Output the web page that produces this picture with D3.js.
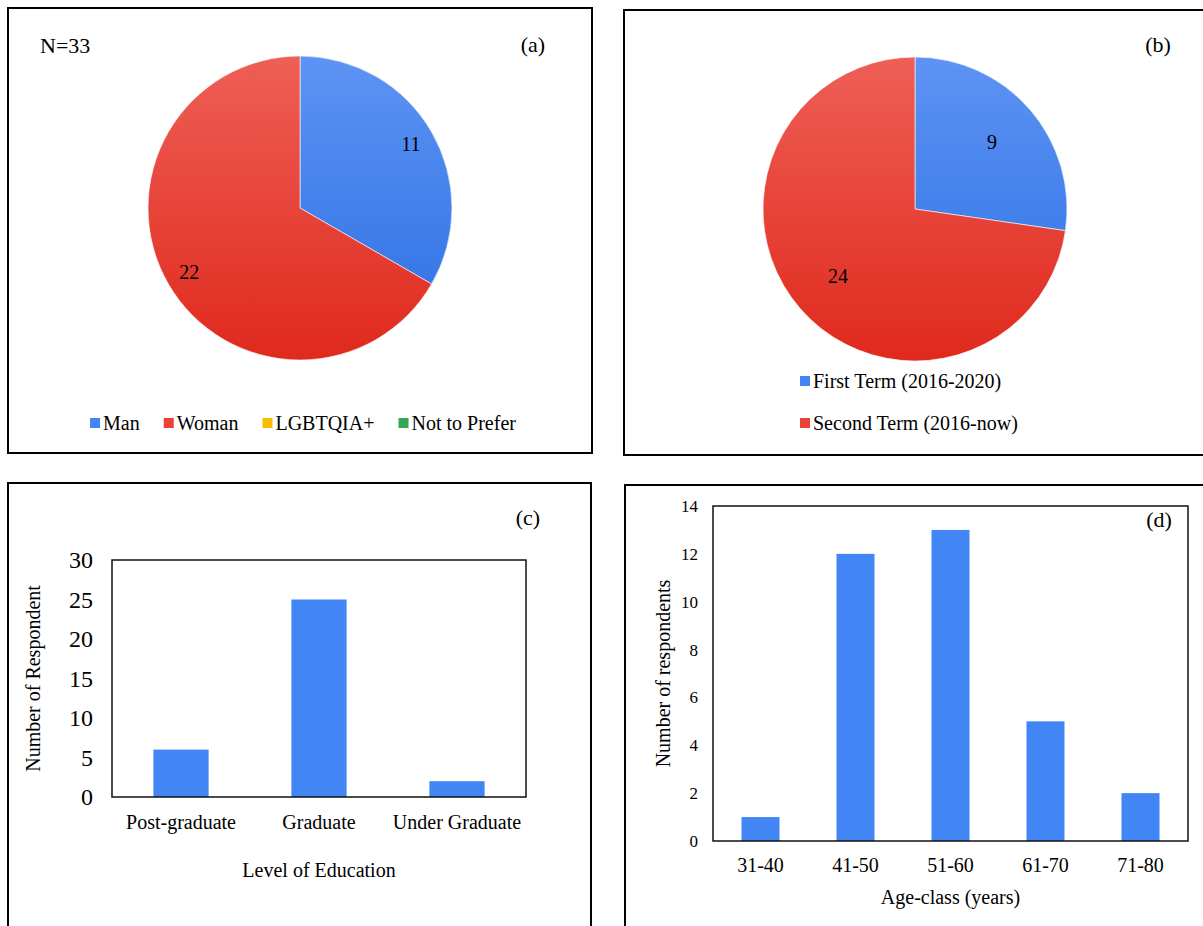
<!DOCTYPE html>
<html><head><meta charset="utf-8">
<script src="https://cdn.jsdelivr.net/npm/d3@7/dist/d3.min.js"></script>
<style>body{margin:0;background:#fff}svg{display:block}text{font-family:"Liberation Serif","Times New Roman",serif;fill:#000}</style>
</head><body>
<svg id="c" width="1203" height="926"></svg>
<script>
// ---- data ----
const genderCats = ["Man", "Woman", "LGBTQIA+", "Not to Prefer"];
const genderVals = [11, 22, 0, 0];
const termCats = ["First Term (2016-2020)", "Second Term (2016-now)"];
const termVals = [9, 24];
const eduCats = ["Post-graduate", "Graduate", "Under Graduate"];
const eduVals = [6, 25, 2];
const eduTicks = [0, 5, 10, 15, 20, 25, 30];
const ageCats = ["31-40", "41-50", "51-60", "61-70", "71-80"];
const ageVals = [1, 12, 13, 5, 2];
const ageTicks = [0, 2, 4, 6, 8, 10, 12, 14];
const legendColors = ["#4285f4", "#ea4335", "#fbbc04", "#34a853"];

const svg = d3.select("#c");
svg.append("rect").attr("width", 1203).attr("height", 926).attr("fill", "#fff");
const defs = svg.append("defs");

// panel boxes
[[8, 8, 584, 445], [624, 10, 600, 445], [8, 483, 583, 460], [625, 485, 600, 460]].forEach(b => {
  svg.append("rect").attr("x", b[0]).attr("y", b[1]).attr("width", b[2]).attr("height", b[3])
    .attr("fill", "none").attr("stroke", "#000").attr("stroke-width", 2);
});

function grad(id, cy, r, top, bottom) {
  const g = defs.append("linearGradient").attr("id", id).attr("gradientUnits", "userSpaceOnUse")
    .attr("x1", 0).attr("x2", 0).attr("y1", cy - r).attr("y2", cy + r);
  g.append("stop").attr("offset", 0).attr("stop-color", top);
  g.append("stop").attr("offset", 1).attr("stop-color", bottom);
}

function drawPie(cats, vals, cx, cy, r, labelR, prefix) {
  grad(prefix + "b", 0, r, "#5d93f4", "#2a6fe2");
  grad(prefix + "r", 0, r, "#ee5f56", "#e0291d");
  const fills = ["url(#" + prefix + "b)", "url(#" + prefix + "r)", legendColors[2], legendColors[3]];
  const g = svg.append("g").attr("transform", `translate(${cx},${cy})`);
  const pie = d3.pie().sort(null).startAngle(0).endAngle(2 * Math.PI);
  const arcs = pie(vals);
  const arc = d3.arc().innerRadius(0).outerRadius(r);
  g.selectAll("path").data(arcs.filter(d => d.value > 0)).join("path")
    .attr("d", arc).attr("fill", d => fills[d.index])
    .attr("stroke", "#fff").attr("stroke-width", 0.6);
  const la = d3.arc().innerRadius(labelR).outerRadius(labelR);
  g.selectAll("text").data(arcs.filter(d => d.value > 0)).join("text")
    .attr("transform", d => `translate(${la.centroid(d)})`)
    .attr("text-anchor", "middle").attr("dy", "0.35em").attr("font-size", 20)
    .text(d => d.value);
}

// (a)
drawPie(genderCats, genderVals, 300, 208, 152, 128, "ga");
svg.append("text").attr("x", 40).attr("y", 53).attr("font-size", 22).text("N=33");
svg.append("text").attr("x", 533).attr("y", 52).attr("text-anchor", "middle").attr("font-size", 22).text("(a)");
{
  const lg = svg.append("g");
  let x = 0;
  genderCats.forEach((c, i) => {
    lg.append("rect").attr("x", x).attr("y", -5).attr("width", 10).attr("height", 10).attr("fill", legendColors[i]);
    const t = lg.append("text").attr("x", x + 13).attr("y", 0).attr("dy", "0.35em").attr("font-size", 20).text(c);
    x += 13 + t.node().getComputedTextLength() + 24;
  });
  const w = x - 24;
  lg.attr("transform", `translate(${303 - w / 2},423)`);
}

// (b)
drawPie(termCats, termVals, 915, 209, 152, 102, "gb");
svg.append("text").attr("x", 1158).attr("y", 52).attr("text-anchor", "middle").attr("font-size", 22).text("(b)");
termCats.forEach((c, i) => {
  svg.append("rect").attr("x", 800).attr("y", 376 + i * 42).attr("width", 10).attr("height", 10).attr("fill", legendColors[i]);
  svg.append("text").attr("x", 813).attr("y", 381 + i * 42).attr("dy", "0.35em").attr("font-size", 20).text(c);
});

function drawBars(cats, vals, ticks, box, tickFont, tickPad, xLabOff, xTitle, xTitleY, yTitle, yTitleX) {
  const [x0, y0, x1, y1] = box;
  const x = d3.scaleBand().domain(cats).range([x0, x1]).paddingInner(0.6).paddingOuter(0.3);
  const y = d3.scaleLinear().domain([ticks[0], ticks[ticks.length - 1]]).range([y1, y0]);
  svg.append("g").selectAll("rect").data(vals).join("rect")
    .attr("x", (d, i) => x(cats[i])).attr("width", x.bandwidth())
    .attr("y", d => y(d)).attr("height", d => y(0) - y(d)).attr("fill", "#4285f4");
  svg.append("rect").attr("x", x0).attr("y", y0).attr("width", x1 - x0).attr("height", y1 - y0)
    .attr("fill", "none").attr("stroke", "#111").attr("stroke-width", 1.5);
  const ya = svg.append("g").attr("transform", `translate(${x0},0)`)
    .call(d3.axisLeft(y).tickValues(ticks).tickSize(0).tickPadding(tickPad).tickFormat(d3.format("d")));
  ya.select(".domain").remove();
  ya.selectAll("text").attr("font-size", tickFont).attr("font-family", null).attr("fill", "#000");
  const xa = svg.append("g").attr("transform", `translate(0,${y1})`)
    .call(d3.axisBottom(x).tickSize(0));
  xa.select(".domain").remove();
  xa.selectAll("text").attr("y", xLabOff).attr("dy", "0.35em").attr("font-size", 20).attr("font-family", null).attr("fill", "#000");
  svg.append("text").attr("x", (x0 + x1) / 2).attr("y", xTitleY).attr("dy", "0.35em")
    .attr("text-anchor", "middle").attr("font-size", 20).text(xTitle);
  svg.append("text").attr("transform", `translate(${yTitleX},${(y0 + y1) / 2}) rotate(-90)`)
    .attr("dy", "0.35em").attr("text-anchor", "middle").attr("font-size", 20).text(yTitle);
}

// (c)
drawBars(eduCats, eduVals, eduTicks, [112, 560, 526, 797], 24, 19, 25, "Level of Education", 870, "Number of Respondent", 33);
svg.append("text").attr("x", 528).attr("y", 517).attr("dy", "0.35em").attr("text-anchor", "middle").attr("font-size", 22).text("(c)");

// (d)
drawBars(ageCats, ageVals, ageTicks, [713, 506, 1188, 841], 17, 15, 24, "Age-class (years)", 897, "Number of respondents", 663);
svg.append("text").attr("x", 1159).attr("y", 519).attr("dy", "0.35em").attr("text-anchor", "middle").attr("font-size", 22).text("(d)");
</script>
</body></html>
